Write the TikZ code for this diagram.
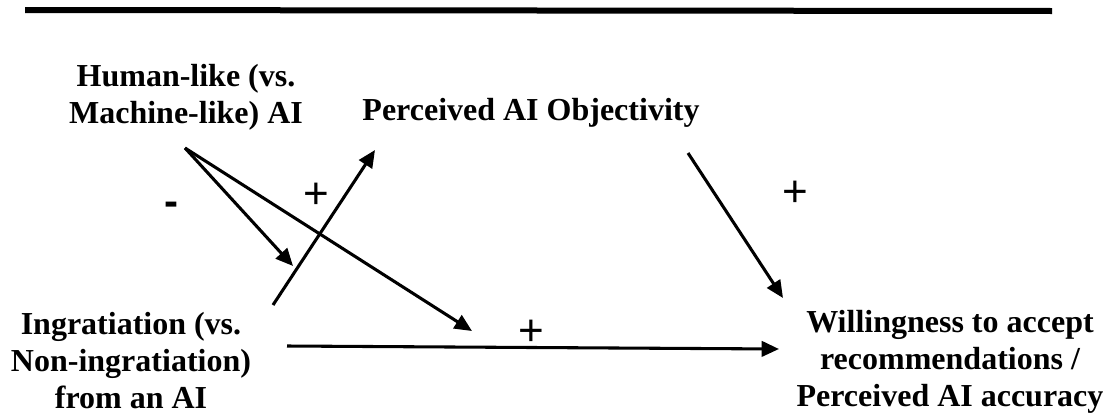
\documentclass[tikz,border=0pt]{standalone}
\usepackage{fontspec}
\setmainfont{Liberation Serif}
\newfontfamily\labelfont{Liberation Sans}
\usetikzlibrary{arrows.meta}
\tikzset{
  var/.style={inner sep=0pt, align=center, font=\fontsize{24}{27.9}\selectfont\bfseries},
  conn/.style={line width=2.3pt, -{Triangle[length=13pt,width=11.5pt]}},
  sign/.style={inner sep=0pt, font=\labelfont\fontsize{33}{36}\selectfont},
  minus/.style={inner sep=0pt, font=\labelfont\fontsize{31.5}{34}\selectfont\bfseries}
}
\begin{document}
\begin{tikzpicture}[x=0.75pt,y=-0.75pt]
\useasboundingbox (0,0) rectangle (1112,418);
% top rule
\fill (25,7) -- (1052,8) -- (1052,14) -- (25,13) -- cycle;
% variables
\node[var, anchor=north] (human) at (186,64) {Human-like (vs.\\Machine-like) AI};
\node[var, anchor=base] (obj) at (531,120) {Perceived AI Objectivity};
\node[var, anchor=north] (ingr) at (131,312) {Ingratiation (vs.\\Non-ingratiation)\\from an AI};
\node[var, anchor=north] (will) at (950,310) {Willingness to accept\\recommendations /\\Perceived AI accuracy};
% connector end points
\coordinate (hs) at (185,148);
\coordinate (modA) at (293,266);
\coordinate (modB) at (472,331);
\coordinate (is) at (273,305);
\coordinate (oe) at (375,150);
\coordinate (os) at (688,153);
\coordinate (we) at (783,298);
\coordinate (ihs) at (287,346);
\coordinate (whe) at (779,349);
% connectors
\draw[conn] (hs) -- (modA);
\draw[conn] (hs) -- (modB);
\draw[conn] (is) -- (oe);
\draw[conn] (os) -- (we);
\draw[conn] (ihs) -- (whe);
% signs
\node[minus] (m1) at (171,209) {-};
\node[sign] (p1) at (316,196) {+};
\node[sign] (p2) at (531,333) {+};
\node[sign] (p3) at (795,194) {+};
\end{tikzpicture}
\end{document}
